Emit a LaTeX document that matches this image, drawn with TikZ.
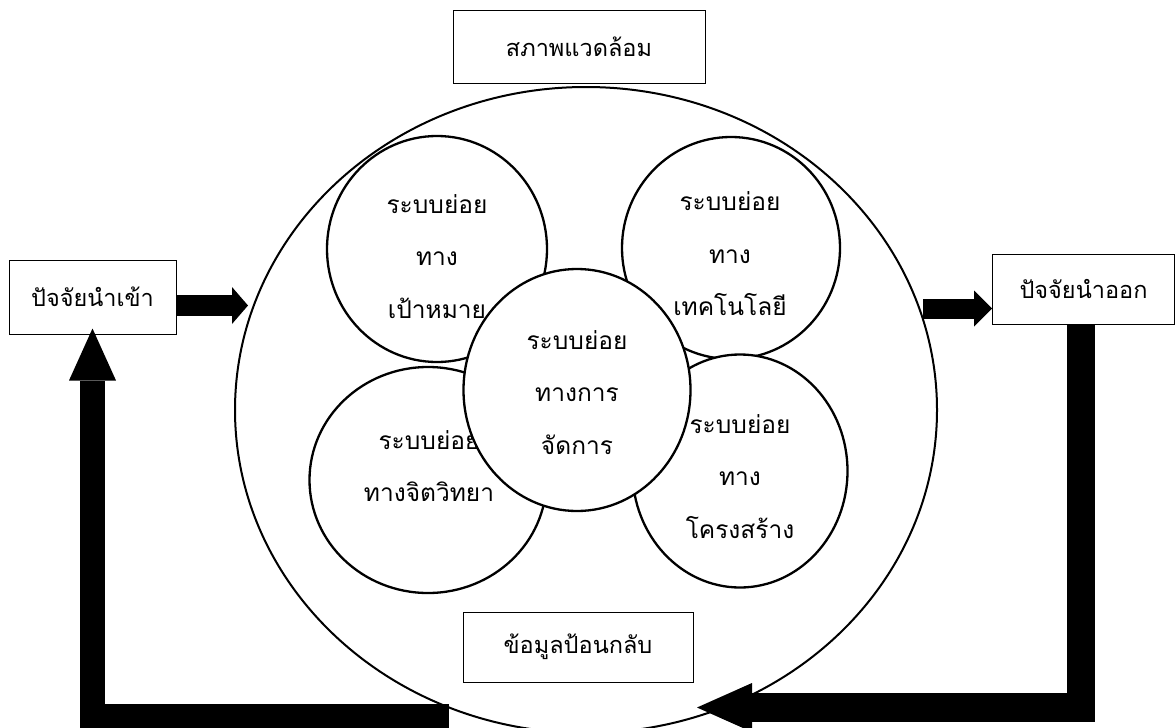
\documentclass[tikz,border=0pt]{standalone}
\usepackage{fontspec}
\newfontfamily\thaifont[Script=Thai]{Loma}
\usetikzlibrary{shapes.geometric,arrows.meta}

\begin{document}
\begin{tikzpicture}[x=1pt,y=-1pt,
  box/.style={draw,line width=1pt,inner sep=0pt,font=\thaifont\fontsize{23.5}{27}\selectfont},
  sub/.style={ellipse,draw,fill=white,line width=2.3pt,inner sep=0pt},
  subtext/.style={align=center,inner sep=0pt,font=\thaifont\fontsize{24.5}{52.5}\selectfont},
  fat/.style={line join=miter}]

\useasboundingbox (0,0) rectangle (1175,728);

% the organisation and its surroundings
\node[ellipse,draw,line width=2pt,minimum width=702pt,minimum height=646pt,inner sep=0pt] (org) at (586,410) {};
\node[box,minimum width=252pt,minimum height=73pt] (env) at (579,46.5) {สภาพแวดล้อม};
\node[box,minimum width=230pt,minimum height=70pt] (feedback) at (578,647) {ข้อมูลป้อนกลับ};

\node[box,minimum width=167pt,minimum height=74pt] (input) at (92.5,297) {ปัจจัยนำเข้า};
\node[box,minimum width=182pt,minimum height=70pt] (output) at (1083.5,289) {ปัจจัยนำออก};

% subsystems
\node[sub,minimum width=220pt,minimum height=226pt] (goal) at (437,249) {};
\node[sub,minimum width=218pt,minimum height=222pt] (tech) at (731,248) {};
\node[sub,minimum width=237pt,minimum height=226pt] (psych) at (428,480) {};
\node[sub,minimum width=215pt,minimum height=233pt] (struct) at (740,471) {};

\node[subtext] (goaltext) at (437,256.5) {ระบบย่อย\\ทาง\\เป้าหมาย};
\node[subtext] (techtext) at (730,254) {ระบบย่อย\\ทาง\\เทคโนโลยี};
\node[subtext] (psychtext) at (429,466) {ระบบย่อย\\ทางจิตวิทยา};

\node[sub,minimum width=227pt,minimum height=242pt] (manage) at (577,390) {};
\node[subtext] (managetext) at (577,392.5) {ระบบย่อย\\ทางการ\\จัดการ};
\node[subtext] (structtext) at (740,476.5) {ระบบย่อย\\ทาง\\โครงสร้าง};

% flows
\coordinate (intip) at (248,305.5);
\coordinate (outfrom) at (923,308.5);
\coordinate (fbtip) at (697,707.5);
\coordinate (fbfrom) at (449,716.5);

\draw[fat,line width=21pt,-{Triangle[length=16pt,width=37pt,line width=0pt]}] (input.east |- intip) -- (intip);
\draw[fat,line width=20pt,-{Triangle[length=18pt,width=36pt,line width=0pt]}] (outfrom) -- (output.west |- outfrom);
\draw[fat,line width=28.5pt,-{Triangle[length=55pt,width=49pt,line width=0pt]}] ([xshift=-2.5pt]output.south) |- (fbtip);
\draw[fat,line width=25pt,-{Triangle[length=52pt,width=47pt,line width=0pt]}] (fbfrom) -| ([yshift=6pt]input.south);

\end{tikzpicture}
\end{document}
